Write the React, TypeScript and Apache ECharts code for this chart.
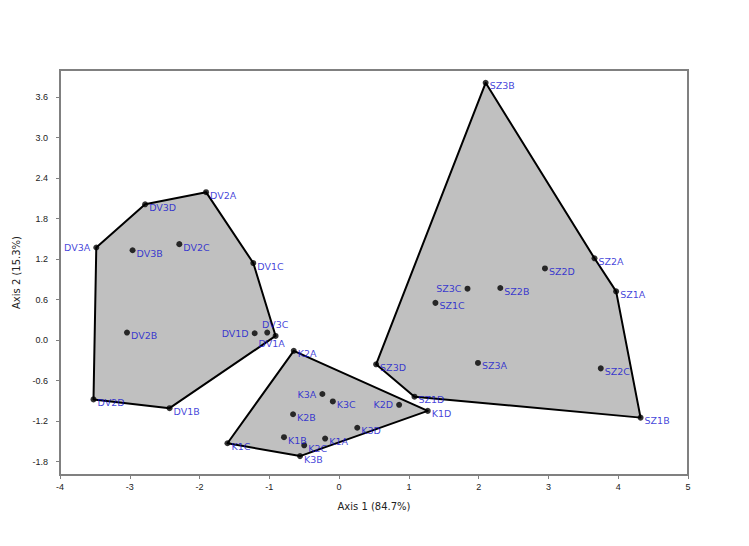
import React, { useEffect, useRef } from "react";
import * as echarts from "echarts";

const dvNames = ["DV1A","DV1B","DV1C","DV1D","DV2A","DV2B","DV2C","DV2D","DV3A","DV3B","DV3C","DV3D"];
const dvX = [-0.91,-2.43,-1.23,-1.21,-1.907,-3.04,-2.29,-3.52,-3.48,-2.96,-1.03,-2.78];
const dvY = [0.06,-1.01,1.14,0.10,2.19,0.11,1.42,-0.88,1.37,1.33,0.11,2.01];
const dvHull = ["DV2A","DV1C","DV1A","DV1B","DV2D","DV3A","DV3D"];

const kNames = ["K1A","K1B","K1C","K1D","K2A","K2B","K2C","K2D","K3A","K3B","K3C","K3D"];
const kX = [-0.20,-0.79,-1.60,1.27,-0.65,-0.66,-0.50,0.86,-0.24,-0.56,-0.09,0.26];
const kY = [-1.46,-1.44,-1.53,-1.05,-0.16,-1.10,-1.56,-0.96,-0.80,-1.72,-0.91,-1.30];
const kHull = ["K2A","K1D","K3B","K1C"];

const szNames = ["SZ1A","SZ1B","SZ1C","SZ1D","SZ2A","SZ2B","SZ2C","SZ2D","SZ3A","SZ3B","SZ3C","SZ3D"];
const szX = [3.97,4.32,1.38,1.08,3.66,2.31,3.75,2.95,1.99,2.10,1.84,0.53];
const szY = [0.72,-1.15,0.55,-0.84,1.21,0.77,-0.42,1.06,-0.34,3.81,0.76,-0.36];
const szHull = ["SZ3B","SZ2A","SZ1A","SZ1B","SZ1D","SZ3D"];

const xTicks = { min: -4, max: 5, interval: 1 };
const yTickValues = [-1.8,-1.2,-0.6,0.0,0.6,1.2,1.8,2.4,3.0,3.6];
const xTitle = "Axis 1 (84.7%)";
const yTitle = "Axis 2 (15.3%)";

const leftLabels = ["DV3A","DV1D","K3A","K2D","SZ3C"];

const LABEL_COLOR = "#1010d0";
const FONT = "DejaVu Sans";

export default function App() {
  const ref = useRef<HTMLDivElement>(null);
  useEffect(() => {
    if (!ref.current) return;
    const chart = echarts.init(ref.current, undefined, { renderer: "svg" });

    const clusters = [
      { names: dvNames, xs: dvX, ys: dvY, hull: dvHull },
      { names: kNames, xs: kX, ys: kY, hull: kHull },
      { names: szNames, xs: szX, ys: szY, hull: szHull },
    ];

    const hullPts = clusters.map((c) =>
      c.hull.map((n) => {
        const i = c.names.indexOf(n);
        return [c.xs[i], c.ys[i]];
      })
    );

    const pointData: any[] = [];
    clusters.forEach((c) => {
      c.names.forEach((n, i) => {
        let label: any = {};
        if (leftLabels.includes(n)) {
          label = { position: "left", distance: 3, offset: [0, 0] };
        } else if (n === "DV3C") {
          label = { position: "inside", offset: [8, -8], align: "center" };
        } else if (n === "DV1A") {
          label = { position: "inside", offset: [-4, 8], align: "center" };
        }
        pointData.push({ name: n, value: [c.xs[i], c.ys[i]], label });
      });
    });

    chart.setOption({
      animation: false,
      backgroundColor: "#ffffff",
      textStyle: { fontFamily: FONT },
      grid: {
        left: 60,
        right: 61,
        top: 70,
        bottom: 71,
        show: true,
        borderColor: "#808080",
        borderWidth: 2,
        containLabel: false,
      },
      xAxis: {
        type: "value",
        min: xTicks.min,
        max: xTicks.max,
        interval: xTicks.interval,
        name: xTitle,
        nameLocation: "middle",
        nameGap: 26,
        nameTextStyle: { fontFamily: FONT, fontSize: 10, color: "#222" },
        splitLine: { show: false },
        axisLine: { onZero: false, lineStyle: { color: "#808080", width: 2 } },
        axisTick: { show: true, inside: false, length: 4, lineStyle: { color: "#808080", width: 1 } },
        axisLabel: { fontFamily: "Liberation Sans", fontSize: 9, color: "#222", margin: 7 },
      },
      yAxis: {
        type: "value",
        min: -2.0,
        max: 4.0,
        name: yTitle,
        nameLocation: "middle",
        nameGap: 34,
        nameTextStyle: { fontFamily: FONT, fontSize: 10, color: "#222" },
        splitLine: { show: false },
        axisLine: { onZero: false, lineStyle: { color: "#808080", width: 2 } },
        axisTick: {
          show: true,
          inside: false,
          length: 4,
          customValues: yTickValues,
          lineStyle: { color: "#808080", width: 1 },
        },
        axisLabel: {
          fontFamily: "Liberation Sans",
          fontSize: 9,
          color: "#222",
          margin: 12,
          customValues: yTickValues,
          formatter: (v: number) => v.toFixed(1),
        },
      },
      series: [
        {
          type: "custom",
          coordinateSystem: "cartesian2d",
          silent: true,
          z: 1,
          data: hullPts.map((p) => p[0]),
          renderItem: (params: any, api: any) => {
            const pts = hullPts[params.dataIndex].map((p) => api.coord(p));
            return {
              type: "polygon",
              shape: { points: pts },
              style: { fill: "#c0c0c0", stroke: "#000000", lineWidth: 2, lineJoin: "round" },
            };
          },
        },
        {
          type: "scatter",
          z: 3,
          symbol: "circle",
          symbolSize: 6,
          itemStyle: { color: "#000000" },
          label: {
            show: true,
            position: "right",
            distance: 1,
            offset: [0, 3],
            formatter: (p: any) => p.name,
            color: LABEL_COLOR,
            fontFamily: FONT,
            fontSize: 9.5,
          },
          data: pointData,
        },
      ],
    });
    return () => chart.dispose();
  }, []);
  return (
    <div
      ref={ref}
      style={{ position: "fixed", left: 0, top: 0, width: 749, height: 546 }}
    />
  );
}
